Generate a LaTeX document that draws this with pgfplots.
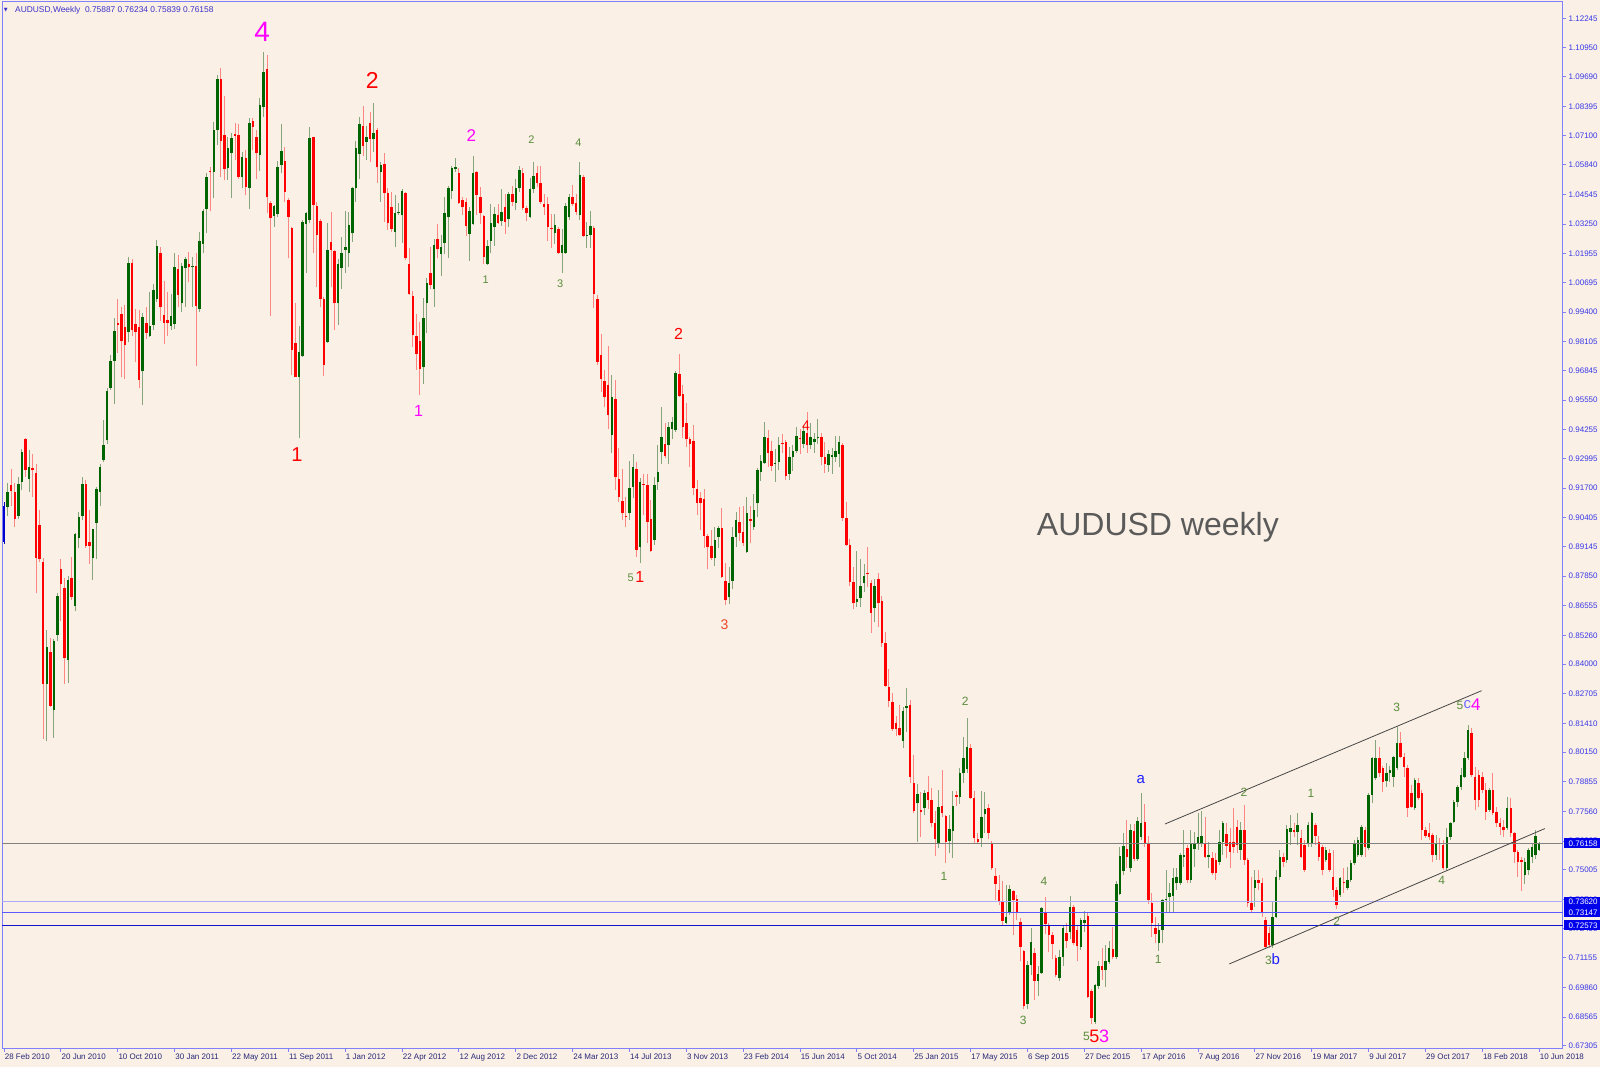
\documentclass[border=0pt]{standalone}
\usepackage{pgfplots}
\pgfplotsset{compat=1.18}
\usepackage{pgfplotstable}
\usepackage{fontspec}
\setmainfont{Liberation Sans}
\newfontfamily\dejavu{DejaVu Sans}
\definecolor{bgc}{RGB}{250,240,230}
\definecolor{framec}{RGB}{128,128,255}
\definecolor{ticktext}{RGB}{55,55,230}
\definecolor{datetext}{RGB}{40,40,120}
\definecolor{titlec}{RGB}{60,50,200}
\definecolor{bullc}{RGB}{0,100,0}
\definecolor{bearc}{RGB}{255,0,0}
\definecolor{wickg}{RGB}{135,165,125}
\definecolor{wickr}{RGB}{252,135,130}
\definecolor{ewg}{RGB}{90,140,60}
\definecolor{ewm}{RGB}{255,0,255}
\definecolor{ewr}{RGB}{255,0,0}
\definecolor{ewo}{RGB}{240,70,40}
\definecolor{ewb}{RGB}{30,30,255}
\definecolor{ewv}{RGB}{110,110,255}
\definecolor{boxc}{RGB}{0,0,235}
\definecolor{hla}{RGB}{170,170,255}
\definecolor{hlb}{RGB}{90,90,255}
\definecolor{hlc}{RGB}{20,20,200}
\definecolor{pricel}{RGB}{128,128,128}
\definecolor{chan}{RGB}{70,70,70}
\definecolor{bigtext}{RGB}{90,90,90}
\newcommand\tf{\fontsize{8}{9}\selectfont}

\pgfplotstableread{
i o h l c
1 0.9088 0.9193 0.9050 0.9154
4 0.9050 0.9219 0.9034 0.9190
5 0.9198 0.9341 0.9160 0.9330
7 0.9210 0.9335 0.9154 0.9264
12 0.8315 0.8551 0.8063 0.8474
14 0.8199 0.8510 0.8079 0.8502
15 0.8528 0.8713 0.8502 0.8696
18 0.8417 0.8787 0.8318 0.8770
20 0.8655 0.8973 0.8631 0.8968
21 0.8952 0.9067 0.8907 0.9045
22 0.9050 0.9220 0.9029 0.9187
25 0.8864 0.8993 0.8766 0.8989
26 0.9017 0.9174 0.8858 0.9165
27 0.9154 0.9276 0.9091 0.9264
28 0.9292 0.9466 0.9285 0.9358
29 0.9379 0.9610 0.9363 0.9593
30 0.9610 0.9750 0.9598 0.9725
31 0.9725 0.9914 0.9536 0.9856
35 0.9851 1.0181 0.9807 1.0153
39 0.9680 0.9934 0.9532 0.9917
41 0.9835 1.0026 0.9832 0.9881
42 0.9884 1.0062 0.9861 1.0037
43 0.9999 1.0256 0.9983 1.0227
47 0.9878 1.0021 0.9861 0.9922
48 0.9889 1.0197 0.9868 1.0136
50 0.9980 1.0153 0.9939 1.0141
51 1.0131 1.0181 0.9963 1.0174
53 1.0136 1.0181 0.9963 1.0141
55 0.9955 1.0292 0.9939 1.0251
56 1.0238 1.0391 1.0197 1.0384
57 1.0389 1.0550 1.0284 1.0532
59 1.0554 1.0773 1.0437 1.0736
60 1.0736 1.0977 1.0671 1.0958
63 1.0569 1.0707 1.0518 1.0656
64 1.0637 1.0722 1.0437 1.0700
67 1.0529 1.0642 1.0481 1.0620
69 1.0481 1.0787 1.0389 1.0768
72 1.0627 1.0875 1.0558 1.0846
73 1.0836 1.1079 1.0795 1.0992
76 1.0360 1.0410 1.0313 1.0404
77 1.0369 1.0602 1.0357 1.0573
78 1.0583 1.0763 1.0546 1.0646
83 0.9655 0.9879 0.9388 0.9767
84 0.9748 1.0343 0.9745 1.0336
85 1.0325 1.0379 1.0112 1.0375
86 1.0343 1.0751 1.0328 1.0700
91 0.9811 1.0331 0.9806 1.0211
94 0.9981 1.0171 0.9884 1.0150
95 1.0131 1.0267 1.0040 1.0197
96 1.0211 1.0384 1.0109 1.0226
97 1.0200 1.0379 1.0138 1.0321
98 1.0284 1.0488 1.0248 1.0481
99 1.0481 1.0690 1.0423 1.0656
100 1.0631 1.0792 1.0521 1.0763
102 1.0685 1.0754 1.0605 1.0704
104 1.0696 1.0853 1.0642 1.0725
106 1.0554 1.0598 1.0423 1.0583
110 1.0292 1.0452 1.0223 1.0372
111 1.0372 1.0415 1.0365 1.0379
112 1.0365 1.0477 1.0244 1.0471
118 0.9698 1.0000 0.9626 0.9913
119 0.9981 1.0088 0.9850 1.0069
121 1.0039 1.0258 0.9964 1.0233
123 1.0194 1.0277 1.0098 1.0226
124 1.0244 1.0442 1.0194 1.0375
125 1.0354 1.0491 1.0175 1.0481
126 1.0471 1.0579 1.0433 1.0569
127 1.0565 1.0612 1.0554 1.0573
131 1.0281 1.0398 1.0165 1.0383
132 1.0325 1.0623 1.0321 1.0547
136 1.0150 1.0255 1.0146 1.0229
137 1.0252 1.0413 1.0197 1.0331
138 1.0313 1.0398 1.0229 1.0369
140 1.0340 1.0477 1.0317 1.0379
142 1.0345 1.0465 1.0313 1.0456
144 1.0418 1.0521 1.0386 1.0481
145 1.0481 1.0579 1.0467 1.0561
148 1.0357 1.0525 1.0350 1.0477
149 1.0477 1.0598 1.0459 1.0535
155 1.0284 1.0369 1.0238 1.0321
157 1.0200 1.0302 1.0112 1.0233
158 1.0200 1.0415 1.0194 1.0404
159 1.0354 1.0456 1.0343 1.0442
162 1.0365 1.0598 1.0343 1.0540
164 1.0273 1.0335 1.0219 1.0277
165 1.0277 1.0383 1.0219 1.0316
171 0.9402 0.9665 0.9325 0.9567
176 0.9063 0.9290 0.9031 0.9169
177 0.9174 0.9319 0.9126 0.9261
179 0.8914 0.9213 0.8844 0.9198
183 0.8943 0.9220 0.8921 0.9184
184 0.9198 0.9359 0.9162 0.9242
185 0.9330 0.9526 0.9276 0.9392
187 0.9359 0.9461 0.9276 0.9436
188 0.9427 0.9483 0.9384 0.9461
189 0.9424 0.9680 0.9415 0.9675
200 0.8863 0.9002 0.8830 0.8943
201 0.8958 0.9005 0.8907 0.8994
204 0.8692 0.8824 0.8665 0.8754
205 0.8765 0.8999 0.8727 0.8958
206 0.8955 0.9067 0.8911 0.9031
209 0.8892 0.9130 0.8888 0.9063
211 0.9002 0.9145 0.8987 0.9074
212 0.9104 0.9256 0.9045 0.9249
213 0.9242 0.9315 0.9203 0.9290
214 0.9281 0.9461 0.9276 0.9392
217 0.9276 0.9340 0.9198 0.9279
218 0.9286 0.9392 0.9249 0.9359
221 0.9232 0.9351 0.9206 0.9305
222 0.9305 0.9359 0.9246 0.9334
223 0.9334 0.9436 0.9322 0.9398
225 0.9363 0.9446 0.9344 0.9421
227 0.9359 0.9453 0.9340 0.9392
228 0.9373 0.9413 0.9325 0.9383
229 0.9388 0.9471 0.9363 0.9395
232 0.9271 0.9337 0.9242 0.9319
233 0.9305 0.9344 0.9232 0.9315
234 0.9305 0.9398 0.9286 0.9334
235 0.9319 0.9398 0.9261 0.9373
240 0.8673 0.8896 0.8651 0.8684
241 0.8688 0.8859 0.8651 0.8742
242 0.8757 0.8838 0.8717 0.8786
245 0.8644 0.8771 0.8586 0.8742
253 0.8066 0.8211 0.8032 0.8197
254 0.8207 0.8294 0.8105 0.8217
257 0.7792 0.7876 0.7624 0.7832
259 0.7770 0.7850 0.7740 0.7838
263 0.7620 0.7850 0.7595 0.7774
266 0.7628 0.7740 0.7572 0.7678
267 0.7672 0.7847 0.7551 0.7780
269 0.7818 0.7945 0.7790 0.7926
270 0.7926 0.8080 0.7880 0.7990
271 0.7940 0.8163 0.7926 0.8036
275 0.7638 0.7847 0.7600 0.7730
276 0.7745 0.7840 0.7660 0.7765
282 0.7270 0.7435 0.7262 0.7296
283 0.7313 0.7435 0.7303 0.7415
288 0.6914 0.7100 0.6894 0.7084
289 0.7084 0.7245 0.7040 0.7187
291 0.7016 0.7080 0.6950 0.7045
292 0.7048 0.7340 0.7045 0.7332
297 0.7026 0.7150 0.7016 0.7118
298 0.7118 0.7260 0.7080 0.7245
300 0.7230 0.7385 0.7200 0.7337
303 0.7165 0.7290 0.7150 0.7281
304 0.7270 0.7320 0.7230 0.7281
307 0.6837 0.7000 0.6827 0.6997
308 0.6993 0.7100 0.6980 0.7080
310 0.7063 0.7170 0.6990 0.7103
311 0.7099 0.7190 0.7090 0.7157
313 0.7118 0.7450 0.7110 0.7439
314 0.7395 0.7600 0.7390 0.7561
315 0.7497 0.7660 0.7480 0.7605
317 0.7507 0.7700 0.7490 0.7675
319 0.7547 0.7730 0.7540 0.7716
320 0.7645 0.7835 0.7630 0.7707
325 0.7179 0.7267 0.7145 0.7237
326 0.7237 0.7375 0.7179 0.7369
327 0.7369 0.7500 0.7310 0.7375
328 0.7383 0.7442 0.7310 0.7398
329 0.7388 0.7507 0.7310 0.7466
330 0.7442 0.7507 0.7413 0.7471
331 0.7442 0.7573 0.7435 0.7566
332 0.7558 0.7675 0.7515 0.7566
334 0.7456 0.7675 0.7442 0.7614
335 0.7592 0.7668 0.7515 0.7614
336 0.7614 0.7748 0.7588 0.7646
337 0.7617 0.7760 0.7600 0.7650
339 0.7555 0.7624 0.7507 0.7566
342 0.7536 0.7675 0.7521 0.7624
343 0.7624 0.7715 0.7566 0.7707
348 0.7588 0.7711 0.7544 0.7675
352 0.7420 0.7500 0.7340 0.7456
357 0.7172 0.7361 0.7160 0.7296
358 0.7296 0.7500 0.7290 0.7471
359 0.7471 0.7588 0.7456 0.7555
361 0.7544 0.7697 0.7529 0.7678
362 0.7668 0.7740 0.7609 0.7682
364 0.7668 0.7748 0.7609 0.7697
367 0.7612 0.7711 0.7600 0.7697
368 0.7614 0.7755 0.7600 0.7750
372 0.7544 0.7602 0.7536 0.7588
376 0.7391 0.7471 0.7383 0.7464
378 0.7420 0.7515 0.7413 0.7456
379 0.7456 0.7544 0.7449 0.7529
380 0.7529 0.7631 0.7522 0.7617
381 0.7566 0.7646 0.7558 0.7631
382 0.7566 0.7697 0.7558 0.7690
384 0.7595 0.7835 0.7587 0.7828
385 0.7828 0.7996 0.7792 0.7988
386 0.7901 0.8069 0.7894 0.7988
389 0.7890 0.7966 0.7864 0.7926
390 0.7926 0.7955 0.7885 0.7935
391 0.7908 0.7999 0.7864 0.7996
392 0.7945 0.8125 0.7937 0.8054
397 0.7770 0.7901 0.7762 0.7894
403 0.7566 0.7653 0.7544 0.7617
406 0.7507 0.7682 0.7500 0.7646
407 0.7646 0.7711 0.7631 0.7704
408 0.7711 0.7806 0.7704 0.7799
409 0.7799 0.7872 0.7777 0.7864
410 0.7861 0.7945 0.7850 0.7915
411 0.7908 0.8018 0.7901 0.7988
412 0.7988 0.8136 0.7981 0.8112
418 0.7762 0.7857 0.7755 0.7850
423 0.7682 0.7821 0.7675 0.7770
428 0.7480 0.7551 0.7440 0.7536
429 0.7500 0.7595 0.7480 0.7587
430 0.7558 0.7620 0.7530 0.7602
431 0.7564 0.7676 0.7550 0.7649
432 0.75887 0.76234 0.75839 0.76158
}\bull

\pgfplotstableread{
i o h l c
0 0.8935 0.9110 0.8925 0.9091
}\first

\pgfplotstableread{
i o h l c
2 0.9182 0.9253 0.9091 0.9157
3 0.9154 0.9193 0.9001 0.9034
6 0.9384 0.9387 0.9220 0.9248
8 0.9256 0.9318 0.9133 0.9249
9 0.9236 0.9276 0.8710 0.8864
10 0.9009 0.9075 0.8848 0.8858
11 0.8849 0.8864 0.8071 0.8315
13 0.8453 0.8516 0.8211 0.8219
16 0.8815 0.8861 0.8590 0.8749
17 0.8734 0.8779 0.8315 0.8425
19 0.8775 0.8869 0.8681 0.8693
23 0.9190 0.9206 0.8910 0.8918
24 0.8935 0.9075 0.8836 0.8918
32 0.9894 0.9999 0.9763 0.9884
33 0.9930 0.9960 0.9654 0.9812
34 0.9873 0.9971 0.9648 0.9796
36 1.0153 1.0174 0.9835 0.9861
37 0.9889 0.9955 0.9720 0.9851
38 0.9873 0.9950 0.9610 0.9643
40 0.9894 0.9960 0.9824 0.9848
44 1.0197 1.0223 0.9901 0.9960
45 0.9927 1.0075 0.9802 0.9894
46 0.9906 1.0029 0.9835 0.9894
49 1.0128 1.0190 0.9960 1.0016
52 1.0148 1.0202 1.0070 1.0136
54 1.0141 1.0197 0.9703 0.9967
58 1.0559 1.0576 1.0384 1.0554
61 1.0958 1.1009 1.0532 1.0690
62 1.0714 1.0885 1.0517 1.0564
65 1.0719 1.0768 1.0605 1.0710
66 1.0714 1.0763 1.0521 1.0532
68 1.0612 1.0649 1.0452 1.0488
70 1.0777 1.0787 1.0649 1.0751
71 1.0707 1.0736 1.0521 1.0634
74 1.1002 1.1064 1.0372 1.0442
75 1.0416 1.0425 0.9923 1.0350
79 1.0602 1.0660 1.0423 1.0467
80 1.0430 1.0437 1.0175 1.0357
81 1.0306 1.0313 0.9665 0.9774
82 0.9806 0.9981 0.9655 0.9658
87 1.0704 1.0707 1.0200 1.0408
88 1.0404 1.0423 1.0051 1.0277
89 1.0340 1.0345 0.9961 0.9996
90 0.9996 1.0007 0.9661 0.9709
92 1.0248 1.0379 1.0048 1.0211
93 1.0208 1.0211 0.9862 0.9978
101 1.0754 1.0841 1.0622 1.0666
103 1.0766 1.0817 1.0598 1.0696
105 1.0737 1.0744 1.0506 1.0573
107 1.0588 1.0637 1.0335 1.0462
108 1.0459 1.0481 1.0299 1.0328
109 1.0400 1.0466 1.0292 1.0302
113 1.0459 1.0467 1.0168 1.0175
114 1.0150 1.0219 1.0015 1.0019
115 1.0010 1.0034 0.9789 0.9840
116 0.9835 0.9932 0.9687 0.9757
117 0.9815 0.9898 0.9578 0.9690
120 1.0109 1.0226 1.0039 1.0058
122 1.0258 1.0325 1.0175 1.0214
128 1.0550 1.0569 1.0413 1.0416
129 1.0430 1.0442 1.0365 1.0398
130 1.0423 1.0437 1.0273 1.0317
133 1.0554 1.0558 1.0365 1.0452
134 1.0445 1.0486 1.0325 1.0375
135 1.0360 1.0365 1.0150 1.0182
139 1.0365 1.0413 1.0325 1.0331
141 1.0398 1.0456 1.0282 1.0335
143 1.0456 1.0491 1.0404 1.0423
146 1.0550 1.0569 1.0386 1.0394
147 1.0394 1.0404 1.0340 1.0372
150 1.0547 1.0579 1.0485 1.0503
151 1.0503 1.0579 1.0413 1.0423
152 1.0413 1.0456 1.0365 1.0398
153 1.0413 1.0442 1.0252 1.0311
154 1.0306 1.0369 1.0219 1.0302
156 1.0302 1.0310 1.0194 1.0200
160 1.0442 1.0496 1.0404 1.0413
161 1.0418 1.0456 1.0365 1.0379
163 1.0530 1.0540 1.0267 1.0273
166 1.0306 1.0316 0.9956 1.0019
167 0.9996 1.0015 0.9709 0.9723
168 0.9752 0.9844 0.9592 0.9646
169 0.9640 0.9687 0.9523 0.9567
170 0.9621 0.9792 0.9427 0.9490
172 0.9558 0.9643 0.9162 0.9220
173 0.9208 0.9344 0.9111 0.9133
174 0.9115 0.9252 0.9031 0.9060
175 0.9048 0.9133 0.8999 0.9045
178 0.9252 0.9286 0.8870 0.8900
180 0.9188 0.9232 0.9053 0.9184
181 0.9184 0.9232 0.8932 0.9023
182 0.9034 0.9118 0.8892 0.8897
186 0.9363 0.9453 0.9300 0.9311
190 0.9669 0.9757 0.9567 0.9573
191 0.9582 0.9621 0.9388 0.9436
192 0.9456 0.9541 0.9351 0.9383
193 0.9383 0.9395 0.9264 0.9363
194 0.9378 0.9446 0.9140 0.9169
195 0.9165 0.9206 0.9053 0.9106
196 0.9125 0.9155 0.8987 0.9104
197 0.9121 0.9165 0.8907 0.8961
198 0.8961 0.8970 0.8815 0.8914
199 0.8917 0.8987 0.8855 0.8863
202 0.8994 0.9082 0.8775 0.8780
203 0.8765 0.8841 0.8659 0.8681
207 0.9020 0.9086 0.8940 0.8975
208 0.8980 0.9092 0.8917 0.8929
210 0.9034 0.9092 0.8929 0.9028
215 0.9388 0.9424 0.9264 0.9325
216 0.9334 0.9378 0.9246 0.9267
219 0.9366 0.9407 0.9325 0.9363
220 0.9373 0.9380 0.9206 0.9223
224 0.9388 0.9427 0.9319 0.9383
226 0.9410 0.9504 0.9325 0.9359
230 0.9392 0.9413 0.9271 0.9308
231 0.9308 0.9373 0.9238 0.9276
236 0.9359 0.9369 0.9028 0.9038
237 0.9038 0.9111 0.8917 0.8921
238 0.8921 0.8946 0.8742 0.8761
239 0.8761 0.8826 0.8640 0.8666
243 0.8800 0.8911 0.8739 0.8794
244 0.8757 0.8768 0.8538 0.8625
246 0.8771 0.8797 0.8564 0.8666
247 0.8678 0.8698 0.8477 0.8494
248 0.8494 0.8542 0.8299 0.8305
249 0.8299 0.8378 0.8211 0.8240
250 0.8236 0.8273 0.8109 0.8115
251 0.8141 0.8173 0.8086 0.8115
252 0.8120 0.8222 0.8086 0.8090
255 0.8222 0.8243 0.7879 0.7905
256 0.7882 0.8003 0.7751 0.7759
258 0.7762 0.7843 0.7643 0.7755
260 0.7842 0.7911 0.7765 0.7806
261 0.7806 0.7857 0.7686 0.7707
262 0.7707 0.7760 0.7561 0.7634
264 0.7780 0.7937 0.7733 0.7748
265 0.7736 0.7740 0.7532 0.7624
268 0.7828 0.7847 0.7780 0.7821
272 0.8032 0.8050 0.7810 0.7813
273 0.7813 0.7847 0.7620 0.7638
274 0.7634 0.7660 0.7615 0.7624
277 0.7770 0.7790 0.7634 0.7660
278 0.7620 0.7625 0.7500 0.7507
279 0.7474 0.7507 0.7369 0.7439
280 0.7412 0.7480 0.7346 0.7361
281 0.7361 0.7450 0.7255 0.7278
284 0.7409 0.7412 0.7216 0.7369
285 0.7372 0.7390 0.7281 0.7313
286 0.7274 0.7290 0.7100 0.7165
287 0.7147 0.7150 0.6894 0.6905
290 0.7138 0.7160 0.6930 0.7016
293 0.7310 0.7380 0.7220 0.7264
294 0.7255 0.7270 0.7140 0.7216
295 0.7216 0.7230 0.7110 0.7176
296 0.7114 0.7130 0.7030 0.7041
299 0.7226 0.7270 0.7160 0.7191
301 0.7337 0.7345 0.7170 0.7182
302 0.7238 0.7260 0.7100 0.7168
305 0.7299 0.7310 0.6940 0.6946
306 0.6972 0.6980 0.6827 0.6851
309 0.7080 0.7160 0.7020 0.7063
312 0.7153 0.7250 0.7110 0.7121
316 0.7590 0.7720 0.7510 0.7555
318 0.7672 0.7700 0.7540 0.7547
321 0.7711 0.7790 0.7600 0.7620
322 0.7620 0.7650 0.7350 0.7369
323 0.7354 0.7398 0.7208 0.7267
324 0.7245 0.7296 0.7179 0.7220
333 0.7595 0.7609 0.7442 0.7456
338 0.7617 0.7733 0.7551 0.7555
340 0.7551 0.7580 0.7478 0.7485
341 0.7544 0.7573 0.7456 0.7488
344 0.7657 0.7704 0.7551 0.7605
345 0.7624 0.7682 0.7507 0.7580
346 0.7624 0.7770 0.7573 0.7602
347 0.7689 0.7719 0.7573 0.7609
349 0.7675 0.7784 0.7522 0.7544
350 0.7544 0.7551 0.7340 0.7354
351 0.7354 0.7471 0.7310 0.7325
353 0.7456 0.7500 0.7413 0.7442
354 0.7442 0.7466 0.7296 0.7310
355 0.7281 0.7296 0.7158 0.7165
356 0.7223 0.7252 0.7160 0.7170
360 0.7555 0.7573 0.7515 0.7536
363 0.7675 0.7704 0.7646 0.7668
365 0.7638 0.7675 0.7551 0.7555
366 0.7609 0.7631 0.7493 0.7500
369 0.7697 0.7704 0.7609 0.7650
370 0.7624 0.7650 0.7540 0.7558
371 0.7602 0.7609 0.7478 0.7500
373 0.7573 0.7590 0.7490 0.7500
374 0.7471 0.7587 0.7383 0.7413
375 0.7413 0.7427 0.7328 0.7345
377 0.7449 0.7507 0.7398 0.7445
383 0.7675 0.7690 0.7558 0.7602
387 0.7988 0.8039 0.7908 0.7923
388 0.7945 0.7955 0.7843 0.7886
393 0.8054 0.8105 0.7988 0.7996
394 0.7996 0.8010 0.7908 0.7952
395 0.7948 0.7959 0.7733 0.7770
396 0.7835 0.7872 0.7770 0.7777
398 0.7879 0.7901 0.7806 0.7813
399 0.7835 0.7850 0.7631 0.7675
400 0.7675 0.7690 0.7640 0.7650
401 0.7660 0.7704 0.7631 0.7646
402 0.7653 0.7660 0.7536 0.7566
404 0.7617 0.7639 0.7544 0.7614
405 0.7610 0.7631 0.7500 0.7507
413 0.8098 0.8120 0.7908 0.7915
414 0.7908 0.7952 0.7762 0.7806
415 0.7915 0.7937 0.7777 0.7806
416 0.7908 0.7930 0.7835 0.7850
417 0.7850 0.7879 0.7719 0.7755
419 0.7850 0.7923 0.7740 0.7748
420 0.7755 0.7777 0.7690 0.7704
421 0.7704 0.7726 0.7653 0.7690
422 0.7690 0.7719 0.7646 0.7675
424 0.7770 0.7814 0.7646 0.7660
425 0.7660 0.7668 0.7531 0.7580
426 0.7580 0.7587 0.7471 0.7536
427 0.7544 0.7558 0.7409 0.7536
}\bear

\begin{document}
\begin{tikzpicture}
\path[use as bounding box, fill=bgc] (-2pt,-18pt) rectangle (1598pt,1049pt);
\begin{axis}[
  at={(0pt,0pt)}, anchor=south west,
  scale only axis, width=1561pt, height=1047pt,
  xmin=-0.6, xmax=438.7, ymin=0.6717, ymax=1.1296,
  clip=false,
  axis line style={draw=framec, line width=1pt},
  ytick={1.12245,1.10950,1.09690,1.08395,1.07100,1.05840,1.04545,1.03250,1.01955,1.00695,0.99400,0.98105,0.96845,0.95550,0.94255,0.92995,0.91700,0.90405,0.89145,0.87850,0.86555,0.85260,0.84000,0.82705,0.81410,0.80150,0.78855,0.77560,0.76265,0.75005,0.73710,0.72450,0.71155,0.69860,0.68565,0.67305},
  yticklabels={1.12245,1.10950,1.09690,1.08395,1.07100,1.05840,1.04545,1.03250,1.01955,1.00695,0.99400,0.98105,0.96845,0.95550,0.94255,0.92995,0.91700,0.90405,0.89145,0.87850,0.86555,0.85260,0.84000,0.82705,0.81410,0.80150,0.78855,0.77560,0.76265,0.75005,0.73710,0.72450,0.71155,0.69860,0.68565,0.67305},
  xtick={0,16,...,432},
  xticklabels={28 Feb 2010,20 Jun 2010,10 Oct 2010,30 Jan 2011,22 May 2011,11 Sep 2011,1 Jan 2012,22 Apr 2012,12 Aug 2012,2 Dec 2012,24 Mar 2013,14 Jul 2013,3 Nov 2013,23 Feb 2014,15 Jun 2014,5 Oct 2014,25 Jan 2015,17 May 2015,6 Sep 2015,27 Dec 2015,17 Apr 2016,7 Aug 2016,27 Nov 2016,19 Mar 2017,9 Jul 2017,29 Oct 2017,18 Feb 2018,10 Jun 2018},
  xtick pos=left, ytick pos=right, yticklabel pos=right,
  tick align=outside, major tick length=3pt,
  tick style={draw=framec, line width=1pt},
  yticklabel style={anchor=west, inner sep=0pt, xshift=2.5pt, font=\tf, text=ticktext},
  xticklabel style={anchor=north west, inner sep=0pt, xshift=0.5pt, yshift=-2pt, font=\tf, text=datetext},
]
% wicks
\addplot[draw=none, mark=none, forget plot, error bars/.cd, y dir=plus, y explicit, error mark=none, error bar style={draw=wickg, line width=1pt}]
  table[x=i, y=l, y error expr=\thisrow{h}-\thisrow{l}] {\bull};
\addplot[draw=none, mark=none, forget plot, error bars/.cd, y dir=plus, y explicit, error mark=none, error bar style={draw=wickr, line width=1pt}]
  table[x=i, y=l, y error expr=\thisrow{h}-\thisrow{l}] {\bear};
\addplot[draw=none, mark=none, forget plot, error bars/.cd, y dir=plus, y explicit, error mark=none, error bar style={draw=blue!70!black, line width=1pt}]
  table[x=i, y=l, y error expr=\thisrow{h}-\thisrow{l}] {\first};
% bodies
\addplot[draw=none, mark=none, forget plot, error bars/.cd, y dir=plus, y explicit, error mark=none, error bar style={draw=bullc, line width=2.5pt}]
  table[x=i, y=o, y error expr=\thisrow{c}-\thisrow{o}] {\bull};
\addplot[draw=none, mark=none, forget plot, error bars/.cd, y dir=plus, y explicit, error mark=none, error bar style={draw=bearc, line width=2.5pt}]
  table[x=i, y=c, y error expr=\thisrow{o}-\thisrow{c}] {\bear};
\addplot[draw=none, mark=none, forget plot, error bars/.cd, y dir=plus, y explicit, error mark=none, error bar style={draw=blue!80!black, line width=2.5pt}]
  table[x=i, y=o, y error expr=\thisrow{c}-\thisrow{o}] {\first};
% horizontal lines
\addplot[pricel, line width=1pt, forget plot] coordinates {(-0.6,0.76158) (438.7,0.76158)};
\addplot[hla, line width=1.6pt, forget plot] coordinates {(-0.6,0.73620) (438.7,0.73620)};
\addplot[hlb, line width=1pt, forget plot] coordinates {(-0.6,0.73147) (438.7,0.73147)};
\addplot[hlc, line width=1pt, forget plot] coordinates {(-0.6,0.72573) (438.7,0.72573)};
% channel
\addplot[chan, line width=0.8pt, forget plot] coordinates {(326.7,0.7701) (415.8,0.8284)};
\addplot[chan, line width=0.8pt, forget plot] coordinates {(344.8,0.7089) (433.6,0.7681)};
% labels
\node[text=ewm, font=\fontsize{28}{30}\selectfont] at (axis cs:72.6,1.1166) {4};
\node[text=ewr, font=\fontsize{23}{25}\selectfont] at (axis cs:103.6,1.0952) {2};
\node[text=ewr, font=\fontsize{20}{22}\selectfont] at (axis cs:82.4,0.9315) {1};
\node[text=ewm, font=\fontsize{16}{18}\selectfont] at (axis cs:116.6,0.9506) {1};
\node[text=ewm, font=\fontsize{17}{19}\selectfont] at (axis cs:131.5,1.0711) {2};
\node[text=ewg, font=\fontsize{11}{13}\selectfont] at (axis cs:148.4,1.0693) {2};
\node[text=ewg, font=\fontsize{11}{13}\selectfont] at (axis cs:161.6,1.0680) {4};
\node[text=ewg, font=\fontsize{11}{13}\selectfont] at (axis cs:135.5,1.0082) {1};
\node[text=ewg, font=\fontsize{11}{13}\selectfont] at (axis cs:156.5,1.0064) {3};
\node[text=ewr, font=\fontsize{16}{18}\selectfont] at (axis cs:189.8,0.9845) {2};
\node[text=ewg, font=\fontsize{11}{13}\selectfont] at (axis cs:176.3,0.8779) {5};
\node[text=ewr, font=\fontsize{16}{18}\selectfont] at (axis cs:178.9,0.8783) {1};
\node[text=ewo, font=\fontsize{14}{16}\selectfont] at (axis cs:202.7,0.8574) {3};
\node[text=ewr, font=\fontsize{14}{16}\selectfont] at (axis cs:225.7,0.9444) {4};
\node[text=ewg, font=\fontsize{12}{14}\selectfont] at (axis cs:270.5,0.8239) {2};
\node[text=ewg, font=\fontsize{12}{14}\selectfont] at (axis cs:264.5,0.7471) {1};
\node[text=ewg, font=\fontsize{12}{14}\selectfont] at (axis cs:292.6,0.7449) {4};
\node[text=ewg, font=\fontsize{12}{14}\selectfont] at (axis cs:286.8,0.6842) {3};
\node[text=ewg, font=\fontsize{12}{14}\selectfont] at (axis cs:304.6,0.6774) {5};
\node[text=ewr, font=\fontsize{18}{20}\selectfont] at (axis cs:306.8,0.6774) {5};
\node[text=ewm, font=\fontsize{18}{20}\selectfont] at (axis cs:309.6,0.6774) {3};
\node[text=ewb, font=\fontsize{15}{17}\selectfont] at (axis cs:319.9,0.7895) {a};
\node[text=ewg, font=\fontsize{12}{14}\selectfont] at (axis cs:324.8,0.7110) {1};
\node[text=ewg, font=\fontsize{12}{14}\selectfont] at (axis cs:348.9,0.7838) {2};
\node[text=ewg, font=\fontsize{12}{14}\selectfont] at (axis cs:355.8,0.7105) {3};
\node[text=ewb, font=\fontsize{15}{17}\selectfont] at (axis cs:357.9,0.7110) {b};
\node[text=ewg, font=\fontsize{12}{14}\selectfont] at (axis cs:367.8,0.7833) {1};
\node[text=ewg, font=\fontsize{12}{14}\selectfont] at (axis cs:375.0,0.7275) {2};
\node[text=ewg, font=\fontsize{12}{14}\selectfont] at (axis cs:391.9,0.8212) {3};
\node[text=ewg, font=\fontsize{12}{14}\selectfont] at (axis cs:409.7,0.8221) {5};
\node[text=ewv, font=\fontsize{15}{17}\selectfont] at (axis cs:411.8,0.8224) {c};
\node[text=ewm, font=\fontsize{17}{19}\selectfont] at (axis cs:414.2,0.8224) {4};
\node[text=ewg, font=\fontsize{12}{14}\selectfont] at (axis cs:404.6,0.7454) {4};
\node[text=bigtext, font=\fontsize{32}{36}\selectfont] at (axis cs:324.7,0.8998) {AUDUSD weekly};
% anchors for boxes
\coordinate (B1) at (axis cs:438.7,0.76158);
\coordinate (B2) at (axis cs:438.7,0.73620);
\coordinate (B3) at (axis cs:438.7,0.73147);
\coordinate (B4) at (axis cs:438.7,0.72573);
\end{axis}
\foreach \b/\t in {B1/0.76158,B2/0.73620,B3/0.73147,B4/0.72573}{
  \node[anchor=west, xshift=1pt, fill=boxc, text=white, font=\tf, inner sep=0pt, minimum height=10pt, text width=45pt, align=left] at (\b) {\hspace*{4.5pt}\t};
}
\node[anchor=center, inner sep=0pt, text=titlec] at (3.8pt,1039pt) {\dejavu\fontsize{5}{5}\selectfont ▼};
\node[anchor=west, inner sep=0pt, font=\fontsize{8.4}{9.5}\selectfont, text=titlec] at (13pt,1039pt) {AUDUSD,Weekly\ \ 0.75887 0.76234 0.75839 0.76158};
\end{tikzpicture}
\end{document}
